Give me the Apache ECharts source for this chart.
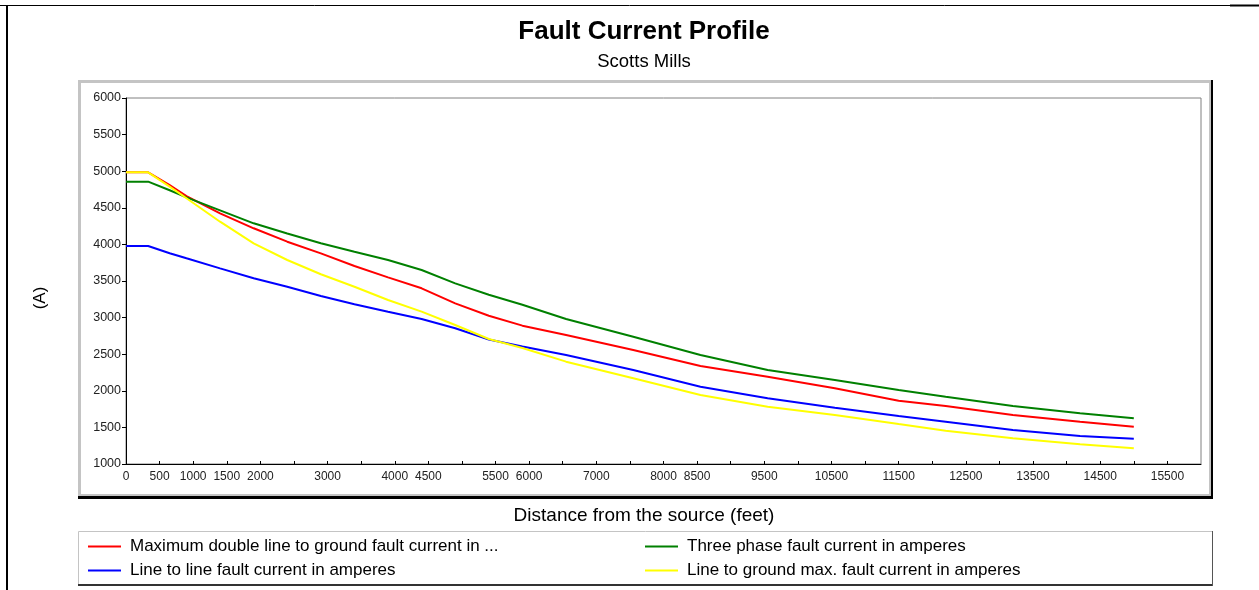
<!DOCTYPE html>
<html>
<head>
<meta charset="utf-8">
<script src="https://cdn.jsdelivr.net/npm/echarts@6/dist/echarts.min.js"></script>
<style>
  html, body { margin: 0; padding: 0; background: #fff; }
  #chart-container { width: 1259px; height: 590px; }
</style>
</head>
<body>
<div id="chart-container"></div>
<script>
// distance from the source (feet)
var distance = [0, 330, 650, 900, 1400, 1900, 2400, 2900, 3400, 3900, 4400, 4900, 5400, 5900, 6550, 7550, 8550, 9550, 10550, 11500, 12200, 13200, 14200, 15000];

var maxDoubleLine = [4985, 4985, 4811, 4661, 4425, 4220, 4037, 3878, 3705, 3550, 3400, 3195, 3025, 2890, 2762, 2557, 2339, 2193, 2034, 1865, 1792, 1669, 1578, 1510];
var threePhase = [4857, 4857, 4740, 4643, 4465, 4288, 4150, 4015, 3900, 3787, 3650, 3468, 3312, 3175, 2981, 2739, 2489, 2284, 2148, 2011, 1919, 1792, 1692, 1624];
var lineToLine = [3978, 3978, 3880, 3810, 3673, 3537, 3422, 3295, 3182, 3081, 2981, 2854, 2700, 2605, 2489, 2284, 2056, 1898, 1769, 1656, 1578, 1464, 1383, 1346];
var lineToGround = [4985, 4985, 4790, 4630, 4310, 4015, 3787, 3592, 3422, 3240, 3081, 2899, 2708, 2585, 2398, 2171, 1943, 1783, 1669, 1545, 1455, 1351, 1269, 1214];

var seriesNames = [
    'Maximum double line to ground fault current in ...',
    'Three phase fault current in amperes',
    'Line to line fault current in amperes',
    'Line to ground max. fault current in amperes'
];
var seriesColors = ['#ff0000', '#008000', '#0000ff', '#ffff00'];

// x labels that the original chart keeps (the rest are dropped)
var xLabels = [0, 500, 1000, 1500, 2000, 3000, 4000, 4500, 5500, 6000, 7000, 8000, 8500, 9500, 10500, 11500, 12500, 13500, 14500, 15500];

var font = 'Liberation Sans, Arial, sans-serif';

function pairs(ys) {
    return distance.map(function (d, i) {
        return [d, ys[i]];
    });
}

function makeSeries(name, ys, color) {
    return {
        name: name,
        type: 'line',
        data: pairs(ys),
        showSymbol: false,
        symbol: 'none',
        color: color,
        lineStyle: {color: color, width: 2},
        animation: false
    };
}

var dom = document.getElementById('chart-container');
var myChart = echarts.init(dom, null, {renderer: 'canvas'});

var legendPos = [[88, 538], [645, 538], [88, 562], [645, 562]];

var option = {
    backgroundColor: '#fff',
    animation: false,
    textStyle: {fontFamily: font},
    grid: {
        left: 126,
        right: 58,
        top: 98,
        bottom: 126,
        show: true,
        borderColor: '#808080',
        borderWidth: 1,
        backgroundColor: '#fff'
    },
    legend: seriesNames.map(function (n, i) {
        return {
            data: [n],
            left: legendPos[i][0],
            top: legendPos[i][1],
            icon: 'rect',
            itemWidth: 33,
            itemHeight: 2,
            padding: 0,
            selectedMode: false,
            textStyle: {fontFamily: font, fontSize: 17, color: '#000', padding: [0, 0, 0, 4]}
        };
    }),
    xAxis: {
        type: 'value',
        min: 0,
        max: 16000,
        interval: 500,
        splitLine: {show: false},
        axisLine: {lineStyle: {color: '#000', width: 1}},
        axisTick: {inside: true, length: 3, lineStyle: {color: '#000'}},
        axisLabel: {
            fontFamily: font,
            fontSize: 12,
            color: '#222',
            margin: 7,
            showMaxLabel: false,
            formatter: function (v) {
                return xLabels.indexOf(v) !== -1 ? String(v) : '';
            }
        }
    },
    yAxis: {
        type: 'value',
        min: 1000,
        max: 6000,
        interval: 500,
        splitLine: {show: false},
        axisLine: {show: true, lineStyle: {color: '#000', width: 1}},
        axisTick: {show: true, length: 4, lineStyle: {color: '#000'}},
        axisLabel: {
            fontFamily: font,
            fontSize: 12.5,
            color: '#222',
            margin: 5,
            formatter: function (v) {
                return String(v);
            }
        }
    },
    graphic: [
        // page frame
        {type: 'line', shape: {x1: 0, y1: 5.5, x2: 1259, y2: 5.5}, style: {stroke: '#000', lineWidth: 1}, z: 0},
        {type: 'line', shape: {x1: 1230, y1: 5.5, x2: 1259, y2: 5.5}, style: {stroke: '#000', lineWidth: 2}, z: 0},
        {type: 'line', shape: {x1: 7, y1: 5, x2: 7, y2: 590}, style: {stroke: '#000', lineWidth: 2}, z: 0},
        // chart panel
        {type: 'rect', shape: {x: 79.5, y: 81.5, width: 1131, height: 414}, style: {fill: 'none', stroke: '#c4c4c4', lineWidth: 3}, z: 0},
        {type: 'line', shape: {x1: 1212, y1: 80, x2: 1212, y2: 499}, style: {stroke: '#000', lineWidth: 2}, z: 0},
        {type: 'line', shape: {x1: 78, y1: 497.5, x2: 1213, y2: 497.5}, style: {stroke: '#000', lineWidth: 3}, z: 0},
        // legend box
        {type: 'rect', shape: {x: 78.5, y: 531.5, width: 1134, height: 53}, style: {fill: 'none', stroke: '#c4c4c4', lineWidth: 1}, z: 0},
        {type: 'line', shape: {x1: 78, y1: 585, x2: 1213, y2: 585}, style: {stroke: '#333', lineWidth: 2}, z: 0},
        {type: 'line', shape: {x1: 1212.5, y1: 531, x2: 1212.5, y2: 586}, style: {stroke: '#555', lineWidth: 1}, z: 0},
        // titles
        {type: 'text', style: {text: 'Fault Current Profile', x: 644, y: 32, align: 'center', verticalAlign: 'middle', font: 'bold 26px ' + font, fill: '#000'}, z: 5},
        {type: 'text', style: {text: 'Scotts Mills', x: 644, y: 62, align: 'center', verticalAlign: 'middle', font: '18.5px ' + font, fill: '#000'}, z: 5},
        {type: 'text', style: {text: 'Distance from the source (feet)', x: 644, y: 516, align: 'center', verticalAlign: 'middle', font: '19px ' + font, fill: '#000'}, z: 5},
        {type: 'text', x: 40, y: 298, rotation: Math.PI / 2, style: {text: '(A)', x: 0, y: 0, align: 'center', verticalAlign: 'middle', font: '17px ' + font, fill: '#000'}, z: 5}
    ],
    series: [
        makeSeries(seriesNames[0], maxDoubleLine, seriesColors[0]),
        makeSeries(seriesNames[1], threePhase, seriesColors[1]),
        makeSeries(seriesNames[2], lineToLine, seriesColors[2]),
        makeSeries(seriesNames[3], lineToGround, seriesColors[3])
    ]
};

myChart.setOption(option);

window.addEventListener('resize', myChart.resize);
</script>
</body>
</html>
